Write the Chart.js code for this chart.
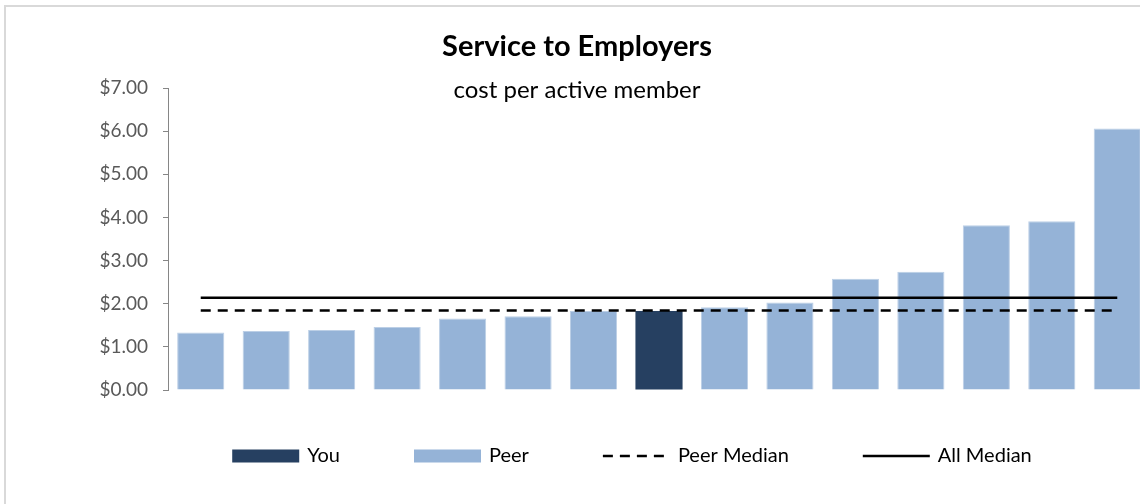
<!DOCTYPE html>
<html>
<head>
<meta charset="utf-8">
<title>Service to Employers</title>
<script src="https://cdn.jsdelivr.net/npm/chart.js@4.4.1/dist/chart.umd.min.js"></script>
<style>
  html, body { margin: 0; padding: 0; background: #ffffff; overflow: hidden; width: 1140px; height: 504px; }
  #frame { position: absolute; left: 4px; top: 5px; width: 1200px; height: 560px;
           border-left: 2px solid #d9d9d9; border-top: 2px solid #d9d9d9; box-sizing: border-box; }
  #chart { position: absolute; left: 0; top: 0; }
</style>
</head>
<body>
<div id="frame"></div>
<canvas id="chart" width="1160" height="504"></canvas>
<script>
// Plans in ascending cost order; the highlighted plan sits at position 8.
const categories = ['1', '2', '3', '4', '5', '6', '7', '8', '9', '10', '11', '12', '13', '14', '15'];
const youValues  = [null, null, null, null, null, null, null, 1.83, null, null, null, null, null, null, null];
const peerValues = [1.33, 1.37, 1.39, 1.46, 1.66, 1.71, 1.83, null, 1.92, 2.03, 2.58, 2.74, 3.82, 3.91, 6.06];
const peerMedian = 1.84;
const allMedian = 2.14;
const yTicks = [0, 1, 2, 3, 4, 5, 6, 7];

const FONT = 'Lato, "Open Sans", sans-serif';
const legendOrder = ['You', 'Peer', 'Peer Median', 'All Median'];

// Title, subtitle and the legend row are drawn by this plugin so they can
// overlap the plot region the way the original layout does.
const decorations = {
  id: 'decorations',
  afterDraw(chart) {
    const ctx = chart.ctx;
    ctx.save();
    ctx.fillStyle = '#000000';
    ctx.textAlign = 'center';
    ctx.textBaseline = 'alphabetic';
    ctx.font = 'bold 29px ' + FONT;
    ctx.fillText('Service to Employers', 577, 56);
    ctx.font = '24px ' + FONT;
    ctx.fillText('cost per active member', 577, 98);

    // legend row
    ctx.font = '20px ' + FONT;
    ctx.textAlign = 'left';
    ctx.textBaseline = 'middle';
    const sample = 67, textGap = 8, itemGap = 74, cy = 456;
    const items = legendOrder.map(lbl => chart.data.datasets.find(d => d.label === lbl));
    const widths = items.map(d => sample + textGap + ctx.measureText(d.label).width);
    const total = widths.reduce((a, b) => a + b, 0) + itemGap * (items.length - 1);
    let x = 632 - total / 2;
    items.forEach((d, i) => {
      if (d.type === 'line') {
        ctx.strokeStyle = d.borderColor;
        ctx.lineWidth = d.borderWidth;
        ctx.setLineDash(d.borderDash || []);
        ctx.beginPath();
        ctx.moveTo(x, cy);
        ctx.lineTo(x + sample, cy);
        ctx.stroke();
        ctx.setLineDash([]);
      } else {
        ctx.fillStyle = d.backgroundColor;
        ctx.fillRect(x, cy - 6.5, sample, 13);
      }
      ctx.fillStyle = '#000000';
      ctx.fillText(d.label, x + sample + textGap, cy);
      x += widths[i] + itemGap;
    });
    ctx.restore();
  }
};

new Chart(document.getElementById('chart'), {
  type: 'bar',
  data: {
    labels: categories,
    datasets: [
      {
        type: 'line', label: 'All Median', order: 0,
        data: categories.map(() => allMedian),
        borderColor: '#000000', borderWidth: 2.5, pointRadius: 0, fill: false
      },
      {
        type: 'line', label: 'Peer Median', order: 0,
        data: categories.map(() => peerMedian),
        borderColor: '#000000', borderWidth: 2.5, borderDash: [10, 7], pointRadius: 0, fill: false
      },
      {
        type: 'bar', label: 'You', order: 1, data: youValues,
        backgroundColor: '#264061', borderWidth: 0
      },
      {
        type: 'bar', label: 'Peer', order: 1, data: peerValues,
        backgroundColor: '#95b3d7', borderColor: '#bccfe6', borderWidth: 1
      }
    ]
  },
  options: {
    responsive: false,
    animation: false,
    devicePixelRatio: 1,
    grouped: false,
    categoryPercentage: 1,
    barPercentage: 0.72,
    layout: { padding: { left: 0, top: 88, right: 10, bottom: 114 } },
    plugins: {
      legend: { display: false },
      title: { display: false },
      tooltip: { enabled: false }
    },
    scales: {
      x: { display: false, offset: true },
      y: {
        min: 0, max: 7,
        afterBuildTicks(scale) { scale.ticks = yTicks.map(v => ({ value: v })); },
        afterFit(scale) { scale.width = 168; },
        border: { display: true, color: '#868686', width: 1 },
        grid: { display: true, drawOnChartArea: false, drawTicks: true, tickLength: 5, color: '#868686' },
        ticks: {
          padding: 15,
          color: '#595959',
          font: { family: FONT, size: 19 },
          callback: v => '$' + Number(v).toFixed(2)
        }
      }
    }
  },
  plugins: [decorations]
});
</script>
</body>
</html>
